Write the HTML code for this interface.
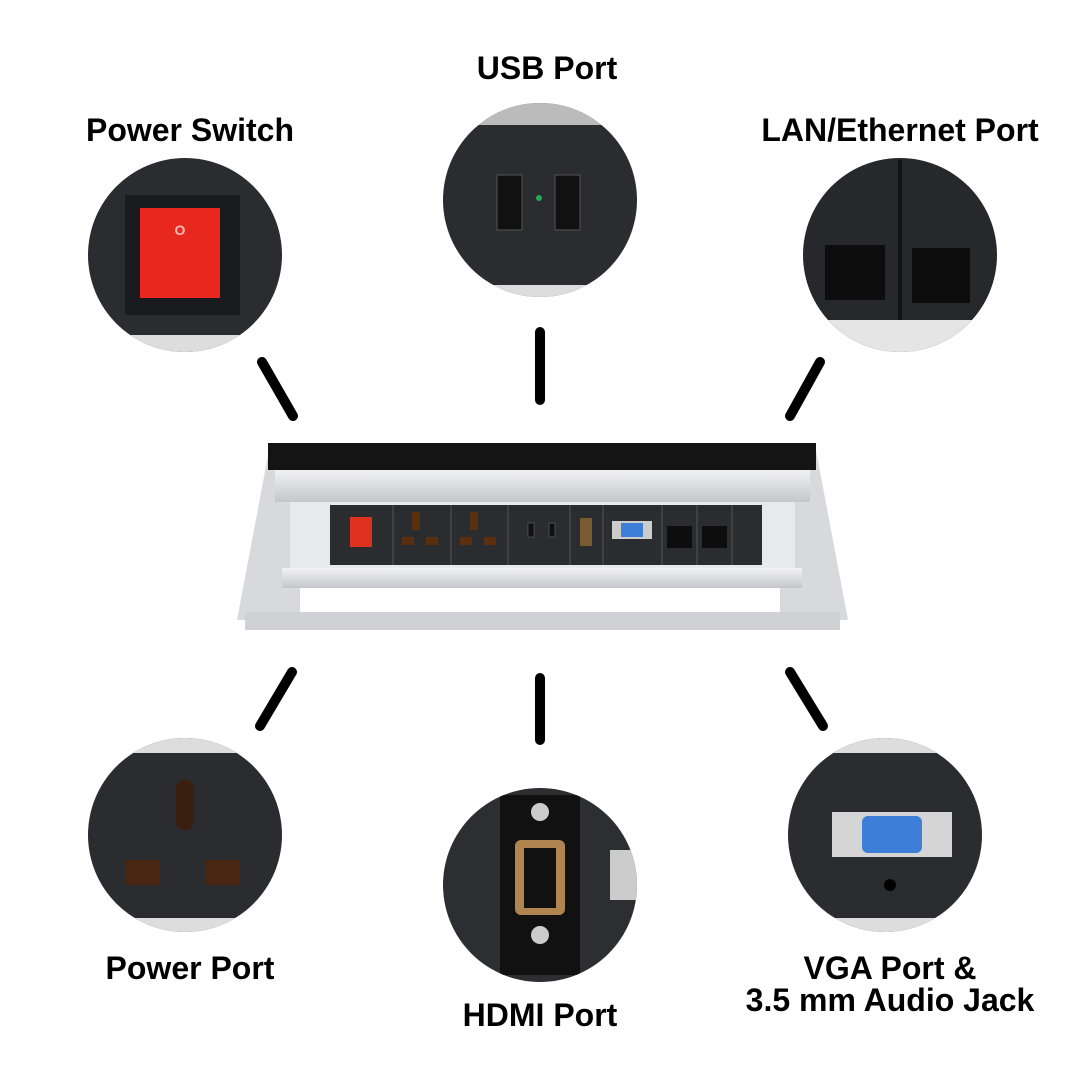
<!DOCTYPE html>
<html><head><style>
body{margin:0;background:#fff;width:1080px;height:1080px;overflow:hidden}
text{font-family:"Liberation Sans",Arial,sans-serif;font-weight:bold;fill:#000}
</style></head><body>
<svg width="1080" height="1080" viewBox="0 0 1080 1080">
<defs>
<clipPath id="c1"><circle cx="185" cy="255" r="97"/></clipPath>
<clipPath id="c2"><circle cx="540" cy="200" r="97"/></clipPath>
<clipPath id="c3"><circle cx="900" cy="255" r="97"/></clipPath>
<clipPath id="c4"><circle cx="185" cy="835" r="97"/></clipPath>
<clipPath id="c5"><circle cx="540" cy="885" r="97"/></clipPath>
<clipPath id="c6"><circle cx="885" cy="835" r="97"/></clipPath>
<linearGradient id="sil" x1="0" y1="0" x2="0" y2="1"><stop offset="0" stop-color="#f2f2f4"/><stop offset="1" stop-color="#c4c6ca"/></linearGradient>
</defs>
<text x="547" y="79" font-size="32" text-anchor="middle">USB Port</text>
<text x="190" y="141" font-size="32" text-anchor="middle">Power Switch</text>
<text x="900" y="141" font-size="32" text-anchor="middle">LAN/Ethernet Port</text>
<text x="190" y="979" font-size="32" text-anchor="middle">Power Port</text>
<text x="540" y="1026" font-size="32" text-anchor="middle">HDMI Port</text>
<text x="890" y="979" font-size="32" text-anchor="middle">VGA Port &amp;</text>
<text x="890" y="1011" font-size="32" text-anchor="middle">3.5 mm Audio Jack</text>
<g stroke="#000" stroke-width="10" stroke-linecap="round">
<line x1="262" y1="362" x2="293" y2="416"/><line x1="540" y1="332" x2="540" y2="400"/><line x1="820" y1="362" x2="790" y2="416"/>
<line x1="292" y1="672" x2="260" y2="726"/><line x1="540" y1="678" x2="540" y2="740"/><line x1="790" y1="672" x2="823" y2="726"/>
</g>
<g clip-path="url(#c1)"><rect x="80" y="150" width="220" height="220" fill="#2a2c30"/><rect x="80" y="335" width="220" height="40" fill="#ddd"/><rect x="125" y="195" width="115" height="120" fill="#1a1b1e"/><rect x="140" y="208" width="80" height="90" fill="#e8281e"/><text x="180" y="235" font-size="14" text-anchor="middle" style="fill:#fbb">O</text></g>
<g clip-path="url(#c2)"><rect x="440" y="100" width="200" height="200" fill="#2a2c30"/><rect x="440" y="100" width="200" height="25" fill="#bbb"/><rect x="440" y="285" width="200" height="20" fill="#ddd"/><rect x="497" y="175" width="25" height="55" fill="#111" stroke="#555"/><rect x="555" y="175" width="25" height="55" fill="#111" stroke="#555"/><circle cx="539" cy="198" r="3" fill="#2a5"/></g>
<g clip-path="url(#c3)"><rect x="800" y="155" width="200" height="200" fill="#26282b"/><rect x="800" y="320" width="200" height="40" fill="#e5e5e5"/><rect x="825" y="245" width="60" height="55" fill="#0d0d0e"/><rect x="912" y="248" width="58" height="55" fill="#0d0d0e"/><line x1="900" y1="160" x2="900" y2="320" stroke="#111" stroke-width="4"/></g>
<g clip-path="url(#c4)"><rect x="85" y="735" width="200" height="200" fill="#2a2c30"/><rect x="85" y="735" width="200" height="18" fill="#ddd"/><rect x="85" y="918" width="200" height="20" fill="#ddd"/><rect x="176" y="780" width="18" height="50" rx="8" fill="#3a1e10"/><rect x="125" y="860" width="35" height="25" fill="#4a2612"/><rect x="205" y="860" width="35" height="25" fill="#4a2612"/></g>
<g clip-path="url(#c5)"><rect x="440" y="785" width="200" height="200" fill="#2c2e32"/><rect x="500" y="795" width="80" height="180" fill="#111"/><circle cx="540" cy="812" r="9" fill="#ccc"/><circle cx="540" cy="935" r="9" fill="#ccc"/><rect x="515" y="840" width="50" height="75" rx="6" fill="#b08550"/><rect x="524" y="848" width="32" height="60" fill="#111"/><rect x="610" y="850" width="30" height="50" fill="#ccc"/></g>
<g clip-path="url(#c6)"><rect x="785" y="735" width="200" height="200" fill="#2a2c30"/><rect x="785" y="735" width="200" height="18" fill="#ddd"/><rect x="785" y="918" width="200" height="20" fill="#ddd"/><rect x="832" y="812" width="120" height="45" fill="#d5d5d5"/><rect x="862" y="816" width="60" height="37" rx="6" fill="#3d7fd8"/><circle cx="890" cy="885" r="6" fill="#000"/></g>
<path d="M237 620 L270 445 L815 445 L848 620 Z" fill="#d8d9dc"/>
<rect x="268" y="443" width="548" height="27" fill="#141414"/>
<rect x="275" y="470" width="535" height="32" fill="url(#sil)"/>
<rect x="290" y="502" width="505" height="66" fill="#e8e9eb"/>
<rect x="330" y="505" width="432" height="60" fill="#2a2c30"/>
<g stroke="#555" stroke-width="1"><line x1="393" y1="505" x2="393" y2="565"/><line x1="451" y1="505" x2="451" y2="565"/><line x1="508" y1="505" x2="508" y2="565"/><line x1="570" y1="505" x2="570" y2="565"/><line x1="603" y1="505" x2="603" y2="565"/><line x1="662" y1="505" x2="662" y2="565"/><line x1="697" y1="505" x2="697" y2="565"/><line x1="732" y1="505" x2="732" y2="565"/></g>
<rect x="350" y="517" width="22" height="30" fill="#e03020"/>
<rect x="412" y="512" width="8" height="18" fill="#5a3010"/><rect x="402" y="537" width="12" height="8" fill="#5a3010"/><rect x="426" y="537" width="12" height="8" fill="#5a3010"/>
<rect x="470" y="512" width="8" height="18" fill="#5a3010"/><rect x="460" y="537" width="12" height="8" fill="#5a3010"/><rect x="484" y="537" width="12" height="8" fill="#5a3010"/>
<rect x="528" y="523" width="6" height="14" fill="#111" stroke="#777" stroke-width=".5"/><rect x="549" y="523" width="6" height="14" fill="#111" stroke="#777" stroke-width=".5"/>
<rect x="580" y="518" width="12" height="28" fill="#7a5a30"/>
<rect x="612" y="521" width="40" height="18" fill="#ccc"/><rect x="621" y="523" width="22" height="14" fill="#3d7fd8"/>
<rect x="667" y="526" width="25" height="22" fill="#0d0d0e"/><rect x="702" y="526" width="25" height="22" fill="#0d0d0e"/>
<rect x="282" y="568" width="520" height="20" fill="url(#sil)"/>
<rect x="245" y="612" width="595" height="18" fill="#d0d1d4"/>
<rect x="300" y="588" width="480" height="24" fill="#fff"/>
</svg>
</body></html>
